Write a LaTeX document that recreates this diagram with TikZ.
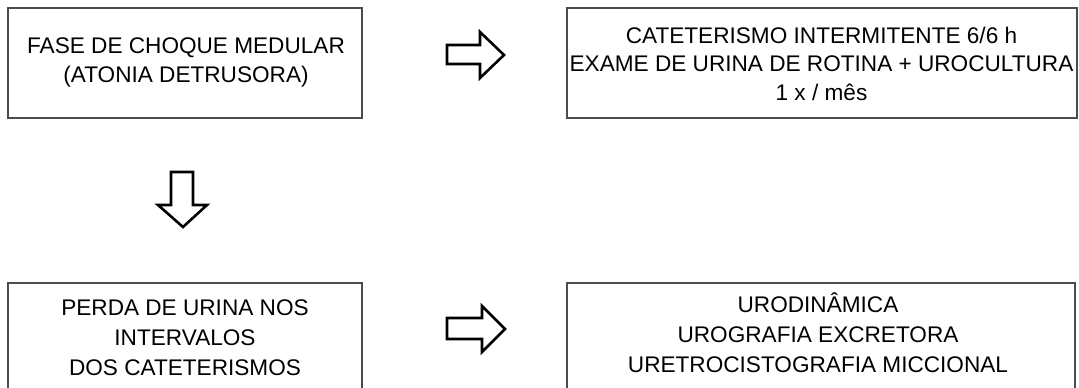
\documentclass[tikz,border=0pt]{standalone}
\usepackage{fontspec}
\setmainfont{Liberation Sans}
\newcommand{\boxlines}[2]{{\fontsize{22.6}{#1}\selectfont\begin{tabular}[t]{@{}c@{}}#2\end{tabular}}}
\begin{document}
\begin{tikzpicture}[x=1pt,y=-1pt,
  box/.style={draw=black!70, line width=1.1pt, inner sep=0pt},
  txt/.style={inner sep=0pt, anchor=base},
  blockarrow/.style={draw=black, line width=2.6pt, line join=miter, fill=white}]
\useasboundingbox (0,0) rectangle (1079,388);
\clip (0,0) rectangle (1079,388);
% boxes
\node[box, minimum width=354pt, minimum height=110pt] (a) at (185,63) {};
\node[box, minimum width=510pt, minimum height=110pt] (b) at (822,63) {};
\node[box, minimum width=354pt, minimum height=110pt] (c) at (185,338) {};
\node[box, minimum width=508pt, minimum height=110pt] (d) at (821,338) {};
% texts
\node[txt] (ta) at (186,53) {\boxlines{29}{FASE DE CHOQUE MEDULAR\\(ATONIA DETRUSORA)}};
\node[txt] (tb) at (821.5,43) {\boxlines{28.5}{CATETERISMO INTERMITENTE 6/6 h\\EXAME DE URINA DE ROTINA + UROCULTURA\\1 x / mês}};
\node[txt] (tc) at (185,315) {\boxlines{30}{PERDA DE URINA NOS\\INTERVALOS\\DOS CATETERISMOS}};
\node[txt] (td) at (818,312) {\boxlines{30}{URODINÂMICA\\UROGRAFIA EXCRETORA\\URETROCISTOGRAFIA MICCIONAL}};
% hollow block arrows
\draw[blockarrow] (447,45) -- (480,45) -- (480,32) -- (504,55) -- (480,78) -- (480,64) -- (447,64) -- cycle;
\draw[blockarrow] (447,318) -- (482,318) -- (482,306) -- (505,329) -- (482,352) -- (482,339) -- (447,339) -- cycle;
\draw[blockarrow] (171,172) -- (193,172) -- (193,205) -- (207,205) -- (183,227) -- (158,205) -- (171,205) -- cycle;
\end{tikzpicture}
\end{document}
